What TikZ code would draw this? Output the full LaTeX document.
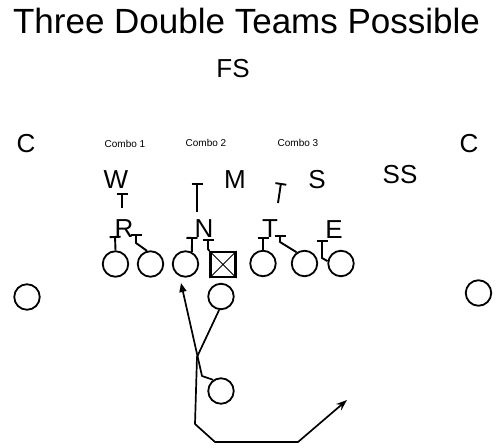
\documentclass[tikz,border=0pt]{standalone}
\usepackage{fontspec}
\setmainfont{Liberation Sans}
\usetikzlibrary{arrows.meta}
\begin{document}
\begin{tikzpicture}[x=1pt,y=-1pt,
  player/.style={circle,draw,minimum size=25.5pt,inner sep=0pt,line width=1.8pt},
  lbl/.style={inner sep=0pt,anchor=base,font=\fontsize{26}{30}\selectfont},
  small/.style={inner sep=0pt,anchor=base,font=\fontsize{10}{12}\selectfont},
  blk/.style={line width=1.9pt,line join=round,-{Bar[width=11pt]}},
  route/.style={line width=1.7pt,line join=round},
]
\useasboundingbox (0,0) rectangle (497,447);
% texts
\node[inner sep=0pt,anchor=base,font=\fontsize{35}{40}\selectfont] (title) at (246.5,33) {Three Double Teams Possible};
\node[lbl] (fs) at (233,77) {FS};
\node[small] (combo1) at (125,147) {Combo 1};
\node[small] (combo2) at (206,146) {Combo 2};
\node[small] (combo3) at (298,146) {Combo 3};
\node[lbl] (cl) at (26,152) {C};
\node[lbl] (cr) at (469,152) {C};
\node[lbl] (w) at (116,188) {W};
\node[lbl] (m) at (235,188) {M};
\node[lbl] (s) at (317,188) {S};
\node[lbl] (ss) at (400,183) {SS};
\node[lbl] (r) at (124,237) {R};
\node[lbl] (n) at (204,237) {N};
\node[lbl] (t) at (270,237) {T};
\node[lbl] (e) at (334,238) {E};
% players
\node[player] (wrl) at (27,297) {};
\node[player] (wrr) at (478.5,293) {};
\node[player] (lt) at (115.5,264) {};
\node[player] (lg) at (150.5,264) {};
\node[player] (ln) at (185.5,264) {};
\node[draw,minimum size=25pt,inner sep=0pt,line width=2.2pt] (sq) at (223,264.5) {};
\draw[line width=0.8pt] (sq.north west) -- (sq.south east) (sq.north east) -- (sq.south west);
\node[player] (rg) at (263,263.5) {};
\node[player] (rt) at (304.5,263.5) {};
\node[player] (te) at (341,263.5) {};
\node[player] (qb) at (221,296.5) {};
\node[player] (rb) at (221,391) {};
% block coordinates
\coordinate (b1) at (115,236);
\coordinate (b2a) at (136,243);
\coordinate (b2) at (136,234);
\coordinate (b3) at (192,237);
\coordinate (b4a) at (208,249);
\coordinate (b4) at (208,239);
\coordinate (b5) at (263,237);
\coordinate (b6a) at (280,242);
\coordinate (b6) at (280,235);
\coordinate (b7a) at (322,258);
\coordinate (b7) at (322,240);
\coordinate (wa) at (122,208);
\coordinate (wb) at (122,193);
\coordinate (ma) at (197,212);
\coordinate (mb) at (197,183);
\coordinate (sa) at (278,203);
\coordinate (sb) at (281,183);
% blocks
\draw[blk] (lt.north) -- (b1);
\draw[blk] (lg.105) -- (b2a) -- (b2);
\draw[blk] (ln.62) -- (b3);
\draw[blk] (sq.north west) -- (b4a) -- (b4);
\draw[blk] (rg.north) -- (b5);
\draw[blk] (rt.125) -- (b6a) -- (b6);
\draw[blk] (te.170) -- (b7a) -- (b7);
\draw[blk] (wa) -- (wb);
\draw[blk] (ma) -- (mb);
\draw[blk] (sa) -- (sb);
% routes
\coordinate (r1) at (202,376);
\coordinate (r2) at (181,283);
\draw[route,-{Triangle[length=9pt,width=7pt]}] (rb.125) -- (r1) -- (r2);
\coordinate (q1) at (197,357);
\coordinate (q2) at (195,424);
\coordinate (q3) at (215,442);
\coordinate (q4) at (298,442);
\coordinate (q5) at (347,400);
\draw[route,-{Stealth[length=11pt,width=8pt]}] (qb.262) -- (q1) -- (q2) -- (q3) -- (q4) -- (q5);
\end{tikzpicture}
\end{document}
